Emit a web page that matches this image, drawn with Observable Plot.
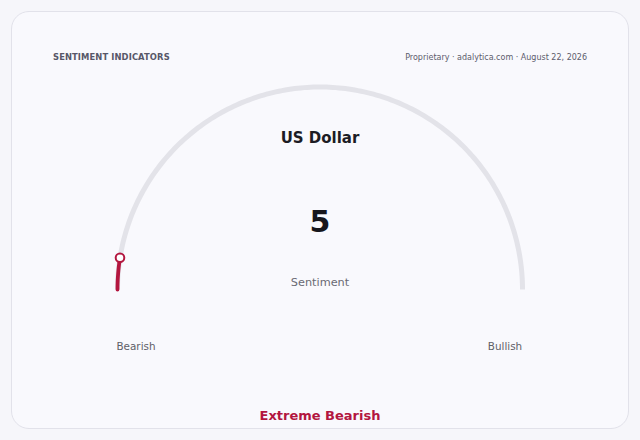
<!DOCTYPE html>
<html>
<head>
<meta charset="utf-8">
<script src="https://cdn.jsdelivr.net/npm/d3@7"></script>
<script src="https://cdn.jsdelivr.net/npm/@observablehq/plot@0.6"></script>
<style>
  html, body { margin: 0; padding: 0; background: #f6f6fa; width: 640px; height: 440px; overflow: hidden; font-family: "DejaVu Sans", sans-serif; }
  #card { position: absolute; left: 11px; top: 11px; width: 618px; height: 418px; border: 1.5px solid #e2e2ea; border-radius: 18px; background: #f9f9fd; box-sizing: border-box; }
  #chart { position: absolute; left: 0; top: 0; }
  .hdr { position: absolute; top: 53px; font-size: 8px; color: #5c5c6c; font-family: "DejaVu Sans", sans-serif; }
  #left { left: 53px; font-weight: bold; font-size: 8.4px; letter-spacing: 0.1px; color: #575768; top: 52px; }
  #right { right: 53px; }
</style>
</head>
<body>
<div id="card"></div>
<div id="chart"></div>
<div class="hdr" id="left">SENTIMENT INDICATORS</div>
<div class="hdr" id="right">Proprietary · adalytica.com · August 22, 2026</div>
<script>
// Data
const assetName = ["US Dollar"];
const sentimentValue = [5];
const valueLabel = ["Sentiment"];
const scaleMin = [0];
const scaleMax = [100];
const endLabels = ["Bearish", "Bullish"];
const verdict = ["Extreme Bearish"];

const R = 1.0125;
const lo = scaleMin[0], hi = scaleMax[0];
const ang = v => Math.PI * (1 - (v - lo) / (hi - lo));
const arcPts = (a, b) => d3.range(a, b + 0.001, 0.5).map(v => ({x: R * Math.cos(ang(v)), y: R * Math.sin(ang(v))}));
const track = arcPts(lo, hi);
const val = sentimentValue[0];
const progress = arcPts(lo, val);
const tip = [{x: R * Math.cos(ang(val)), y: R * Math.sin(ang(val))}];
const red = "#b3163f";

const chart = Plot.plot({
  width: 640, height: 440,
  margin: 0,
  style: {background: "transparent", fontFamily: "DejaVu Sans, sans-serif"},
  x: {domain: [-1.5975, 1.6025], axis: null},
  y: {domain: [-0.755, 1.445], axis: null},
  marks: [
    Plot.line(track, {x: "x", y: "y", stroke: "#e3e3e9", strokeWidth: 5, strokeLinecap: "butt"}),
    Plot.line(progress, {x: "x", y: "y", stroke: red, strokeWidth: 3.8, strokeLinecap: "round"}),
    Plot.dot(tip, {x: "x", y: "y", r: 4.3, fill: "white", stroke: red, strokeWidth: 2}),
    Plot.text(assetName, {x: () => 0, y: () => 0.755, text: d => d, fontSize: 15, fontWeight: "bold", fill: "#1c1c24"}),
    Plot.text(sentimentValue, {x: () => 0, y: () => 0.335, text: d => String(d), fontSize: 30, fontWeight: "bold", fill: "#16161c"}),
    Plot.text(valueLabel, {x: () => 0, y: () => 0.035, text: d => d, fontSize: 11.3, fill: "#6a6a74"}),
    Plot.text(endLabels, {x: (d, i) => i === 0 ? -0.92 : 0.925, y: () => -0.285, text: d => d, fontSize: 10.4, fill: "#5f5f68"}),
    Plot.text(verdict, {x: () => 0, y: () => -0.63, text: d => d, fontSize: 13, fontWeight: "bold", fill: red})
  ]
});
document.getElementById("chart").append(chart);
</script>
</body>
</html>
